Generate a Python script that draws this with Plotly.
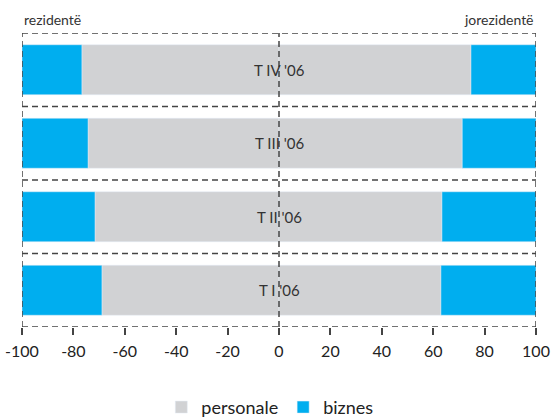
import plotly.graph_objects as go

categories = ["T I '06", "T II '06", "T III '06", "T IV '06"]
# rezidentë (left side)
rez_personale = [68.9, 71.6, 74.3, 76.7]
rez_biznes = [31.1, 28.4, 25.7, 23.3]
# jorezidentë (right side)
jor_personale = [63.0, 63.4, 71.3, 74.7]
jor_biznes = [37.0, 36.6, 28.7, 25.3]
tick_vals = [-100, -80, -60, -40, -20, 0, 20, 40, 60, 80, 100]

C_PERS = "#D1D2D4"
C_BIZ = "#00AEEF"
FONT = "Lato"

fig = go.Figure()
fig.add_trace(go.Bar(y=categories, x=[-v for v in rez_personale], orientation="h",
                     marker_color=C_PERS, name="personale", legendgroup="p", width=0.68))
fig.add_trace(go.Bar(y=categories, x=[-v for v in rez_biznes], orientation="h",
                     marker_color=C_BIZ, name="biznes", legendgroup="b", width=0.68))
fig.add_trace(go.Bar(y=categories, x=jor_personale, orientation="h",
                     marker_color=C_PERS, name="personale", legendgroup="p", showlegend=False, width=0.68))
fig.add_trace(go.Bar(y=categories, x=jor_biznes, orientation="h",
                     marker_color=C_BIZ, name="biznes", legendgroup="b", showlegend=False, width=0.68))

dash_line = dict(color="#444444", width=1.5, dash="6px,4px")
shapes = []
for yb in [-0.5, 0.5, 1.5, 2.5, 3.5]:
    shapes.append(dict(type="line", xref="x", yref="y", x0=-100, x1=100, y0=yb, y1=yb, line=dash_line))
for xv in [-100, 0, 100]:
    shapes.append(dict(type="line", xref="x", yref="y", x0=xv, x1=xv, y0=-0.5, y1=3.5, line=dash_line))

annotations = []
for c in categories:
    annotations.append(dict(x=0, y=c, xref="x", yref="y", text=c, showarrow=False,
                            font=dict(family=FONT, size=15, color="#333333")))
annotations.append(dict(x=0, y=1, xref="paper", yref="paper", xanchor="left", yanchor="bottom",
                        yshift=3, text="rezidentë", showarrow=False,
                        font=dict(family=FONT, size=14, color="#333333")))
annotations.append(dict(x=1, y=1, xref="paper", yref="paper", xanchor="right", yanchor="bottom",
                        yshift=3, text="jorezidentë", showarrow=False,
                        font=dict(family=FONT, size=14, color="#333333")))

fig.update_layout(
    barmode="relative",
    width=554, height=420,
    margin=dict(l=22, r=18, t=33, b=93),
    paper_bgcolor="white", plot_bgcolor="white",
    shapes=shapes, annotations=annotations,
    bargap=0.32,
    xaxis=dict(range=[-100, 100], tickvals=tick_vals, ticktext=[str(v) for v in tick_vals],
               showgrid=False, zeroline=False, showline=False, automargin=False,
               ticks="outside", ticklen=7, tickcolor="#444444", tickwidth=1.5,
               ticklabelstandoff=3,
               tickfont=dict(family=FONT, size=16, color="#222222")),
    yaxis=dict(range=[-0.5, 3.5], showticklabels=False, showgrid=False, zeroline=False,
               showline=False, ticks="", automargin=False),
    legend=dict(orientation="h", x=0.487, xanchor="center", xref="container",
                y=0.03, yanchor="middle", yref="container",
                font=dict(family=FONT, size=18, color="#222222"), itemwidth=30,
                traceorder="normal"),
    showlegend=True,
)

fig.write_html("out.html", config={"displayModeBar": False},
               post_script="document.body.style.margin='0';document.body.style.overflow='hidden';")
